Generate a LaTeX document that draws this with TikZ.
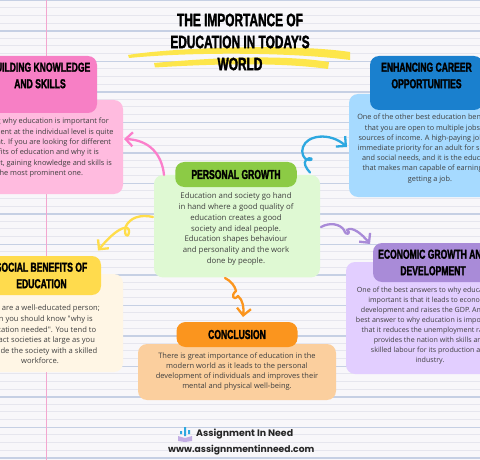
\documentclass[tikz,border=0pt]{standalone}
\usepackage{fontspec}
\usetikzlibrary{arrows.meta,positioning}
\newfontfamily\bodyfont{Open Sans}
\newfontfamily\headfont[FakeStretch=0.66,BoldFeatures={FakeBold=1.8}]{Liberation Sans}
\newfontfamily\footfont{Poppins}
\definecolor{paper}{HTML}{F8F7FA}
\definecolor{ruleline}{HTML}{C6D0E4}
\definecolor{fineline}{HTML}{E6E6EE}
\definecolor{marginline}{HTML}{F3A6CF}
\definecolor{brush}{HTML}{FDE64B}
\definecolor{bodyink}{HTML}{3F3F3F}
\definecolor{pinkhead}{HTML}{F77FC5}
\definecolor{pinkbody}{HTML}{FFBBDF}
\definecolor{bluehead}{HTML}{1A80CE}
\definecolor{bluebody}{HTML}{A6DAFF}
\definecolor{greenhead}{HTML}{8CCB45}
\definecolor{greenbody}{HTML}{DFF9D3}
\definecolor{yellowhead}{HTML}{FFDB4D}
\definecolor{yellowbody}{HTML}{FFF6E5}
\definecolor{purplehead}{HTML}{A98BD8}
\definecolor{purplebody}{HTML}{E2CEFF}
\definecolor{orangehead}{HTML}{FB951E}
\definecolor{orangebody}{HTML}{FBCF9E}
\definecolor{pinkarrow}{HTML}{FB7FCB}
\definecolor{bluearrow}{HTML}{2EA8E0}
\definecolor{yellowarrow}{HTML}{FFDD4A}

\begin{document}
\begin{tikzpicture}[
    x=1pt, y=-1pt,
    bodybox/.style={rectangle, rounded corners=9pt, inner sep=0pt},
    headbox/.style={rectangle, rounded corners=9pt, inner sep=0pt, align=center,
        text=black, font=\headfont\bfseries\fontsize{13}{16.5}\selectfont},
    headtext/.style={align=center, inner sep=0pt, text=black,
        font=\headfont\bfseries\fontsize{13}{16.5}\selectfont},
    bodytext/.style n args={2}{align=center, inner sep=0pt, text=bodyink,
        font=\bodyfont\fontsize{#1}{#2}\selectfont},
    titletext/.style={align=center, inner sep=0pt, text=black,
        font=\headfont\bfseries\fontsize{18}{22}\selectfont},
    foottext/.style={inner sep=0pt, text=black!85, font=\footfont\bfseries\fontsize{#1}{12}\selectfont},
    handarrow/.style={line width=2.3pt, line cap=round, line join=round,
        -{Straight Barb[length=7pt,width=14pt,line width=2.3pt]}}
]
\useasboundingbox (0,0) rectangle (480,460);
\clip (0,0) rectangle (480,460);
\fill[paper] (0,0) rectangle (480,460);

% Ruled paper
\foreach \i in {0,...,60} \draw[fineline, line width=0.7pt] (0,{\i*7.625}) -- (480,{\i*7.625});
\foreach \i in {0,...,15} \draw[ruleline, line width=1.1pt] (0,{0.5+\i*30.5}) -- (480,{0.5+\i*30.5});
\draw[marginline, line width=1pt] (46,0) -- (46,460);

% Title
\fill[brush] (128,55) .. controls (170,48) and (290,43) .. (350,52) -- (350,60) .. controls (290,52) and (190,52) .. (129,58) -- cycle;
\fill[brush] (154,63) .. controls (210,58) and (280,54) .. (329,62) -- (328,69) .. controls (280,62) and (210,64) .. (155,67.5) -- cycle;
\node[titletext] (title) at (240,42) {THE IMPORTANCE OF\\EDUCATION IN TODAY'S\\WORLD};

% Building knowledge
\node[bodybox, fill=pinkbody, minimum width=166pt, minimum height=94pt] (knowledgebody) at (40,147) {};
\node[bodytext={7.4}{10.3}] (knowledgetext) at (40,147.7) {Knowing why education is important for\\development at the individual level is quite\\important. If you are looking for different\\benefits of education and why it is\\important, gaining knowledge and skills is\\the most prominent one.};
\node[headbox, fill=pinkhead, minimum width=114pt, minimum height=57pt] (knowledgehead) at (40,84.5) {};
\node[headtext] (knowledgetitle) at (40,75.5) {BUILDING KNOWLEDGE\\AND SKILLS};

% Enhancing career
\node[bodybox, fill=bluebody, minimum width=162pt, minimum height=103pt] (careerbody) at (430,145.5) {};
\node[bodytext={7.3}{10.2}] (careertext) at (430,148.5) {One of the other best education benefits is\\that you are open to multiple jobs and\\sources of income. A high-paying job is an\\immediate priority for an adult for survival\\and social needs, and it is the education\\that makes man capable of earning and\\getting a job.};
\node[headbox, fill=bluehead, minimum width=113pt, minimum height=54pt] (careerhead) at (426.5,83) {};
\node[headtext] (careertitle) at (426.5,75.5) {ENHANCING CAREER\\OPPORTUNITIES};

% Personal growth
\node[bodybox, fill=greenbody, minimum width=166pt, minimum height=102.5pt] (growthbody) at (237,226.2) {};
\node[bodytext={7.8}{10.7}] (growthtext) at (236,229) {Education and society go hand\\in hand where a good quality of\\education creates a good\\society and ideal people.\\Education shapes behaviour\\and personality and the work\\done by people.};
\node[headbox, fill=greenhead, minimum width=121.5pt, minimum height=25pt] (growthhead) at (236,174.5) {PERSONAL GROWTH};

% Social benefits
\node[bodybox, fill=yellowbody, minimum width=166pt, minimum height=98pt] (socialbody) at (40,323) {};
\node[bodytext={7.6}{10.6}] (socialtext) at (40,334.5) {If you are a well-educated person;\\then you should know "why is\\education needed". You tend to\\impact societies at large as you\\provide the society with a skilled\\workforce.};
\node[headbox, fill=yellowhead, minimum width=119pt, minimum height=39pt] (socialhead) at (41.5,275.5) {SOCIAL BENEFITS OF\\EDUCATION};

% Economic growth
\node[bodybox, fill=purplebody, minimum width=168pt, minimum height=112pt] (economicbody) at (430,318) {};
\node[bodytext={7.1}{10}] (economictext) at (430,326) {One of the best answers to why education is\\important is that it leads to economic\\development and raises the GDP. Another\\best answer to why education is important is\\that it reduces the unemployment rate. It\\provides the nation with skills and\\skilled labour for its production and\\industry.};
\node[headbox, fill=purplehead, minimum width=120pt, minimum height=39pt] (economichead) at (433,262.5) {ECONOMIC GROWTH AND\\DEVELOPMENT};

% Conclusion
\node[bodybox, fill=orangebody, minimum width=198pt, minimum height=56pt] (conclusionbody) at (237,372) {};
\node[bodytext={7.5}{10.3}] (conclusiontext) at (237,371.5) {There is great importance of education in the\\modern world as it leads to the personal\\development of individuals and improves their\\mental and physical well-being.};
\node[headbox, fill=orangehead, minimum width=121pt, minimum height=25pt] (conclusionhead) at (237,334.5) {CONCLUSION};

% Arrow ends
\coordinate (pinkfrom) at (164,175);
\coordinate (pinkto) at (124,139);
\coordinate (yellowfrom) at (153,217);
\coordinate (yellowto) at (98,250.5);
\coordinate (bluefrom) at (310,172.5);
\coordinate (blueto) at (347,147);
\coordinate (purplefrom) at (321,227);
\coordinate (purpleto) at (370,244);
\coordinate (orangefrom) at (225,278);
\coordinate (orangeto) at (243,317);

% Arrows
\draw[handarrow, pinkarrow] (pinkfrom) .. controls (162,155) and (150,140) .. (pinkto);
\draw[handarrow, yellowarrow] (yellowfrom) .. controls (140,214) and (130,218) .. (126,226) .. controls (123,234) and (128,240) .. (129,232) .. controls (130,224) and (118,226) .. (yellowto);
\draw[handarrow, bluearrow] (bluefrom) .. controls (306,168) and (303,163) .. (306,160) .. controls (310,156) and (315,160) .. (309,160) .. controls (303,160) and (301,152) .. (303,147) .. controls (307,135) and (330,132) .. (blueto);
\draw[handarrow, purplehead] (purplefrom) .. controls (330,222) and (340,224) .. (344,230) .. controls (346,237) and (352,233) .. (347,230) .. controls (352,226) and (362,234) .. (purpleto);
\draw[handarrow, orangehead] (orangefrom) .. controls (231,281) and (235,286) .. (236,291) .. controls (230,296) and (234,301) .. (238,296) .. controls (243,300) and (244,308) .. (orangeto);

% Footer
\fill[purplehead!70] (178,436) -- (185,438) -- (192,436) -- (192,441) -- (185,442) -- (178,441) -- cycle;
\fill[bluearrow] (180,434) rectangle (182,431) (184,436) rectangle (186,427) (188,434) rectangle (190,430);
\node[foottext=9.4, anchor=west] (brandname) at (196,434) {Assignment In Need};
\node[foottext=9.2, anchor=west] (brandurl) at (168,450) {www.assignnmentinneed.com};
\end{tikzpicture}
\end{document}
